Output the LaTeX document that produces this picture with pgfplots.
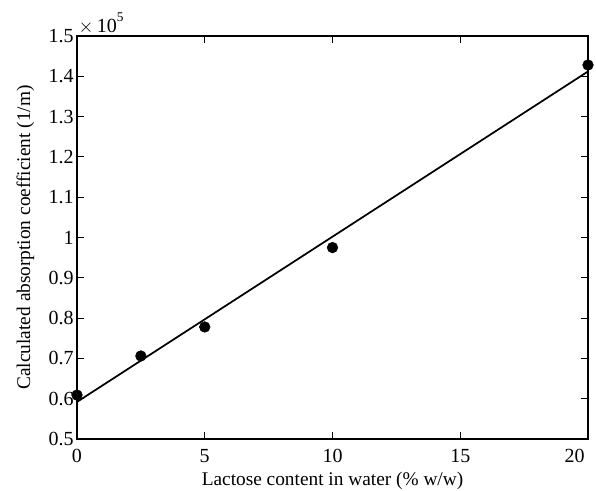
\documentclass[border=0pt]{standalone}
\usepackage{pgfplots}
\pgfplotsset{compat=1.18}
\usepackage{fontspec}
\setmainfont{Liberation Serif}
\begin{document}
\begin{tikzpicture}[x=1pt,y=1pt]
\path[use as bounding box] (-57.75pt,-39pt) rectangle (389.25pt,329.25pt);
\begin{axis}[
  at={(0,0)}, anchor=south west,
  scale only axis,
  width=383.25pt, height=302.25pt,
  xmin=0, xmax=20, ymin=0.5, ymax=1.5,
  xtick={0,5,10,15},
  extra x ticks={20},
  extra x tick style={xticklabel style={anchor=north east, xshift=1pt}},
  ytick={0.5,0.6,0.7,0.8,0.9,1.0,1.1,1.2,1.3,1.4,1.5},
  yticklabel style={/pgf/number format/fixed,/pgf/number format/precision=1, xshift=1pt},
  xticklabel style={yshift=-4pt},
  /pgf/number format/assume math mode=true,
  tick align=inside,
  major tick length=5pt,
  tick style={black, line width=0.6pt},
  axis line style={line width=0.9pt},
  ticklabel style={font=\fontsize{15}{17}\selectfont},
  label style={font=\fontsize{14.5}{17}\selectfont},
  xlabel={Lactose content in water (\% w/w)},
  ylabel={Calculated absorption coefficient (1/m)},
  xlabel style={yshift=0pt},
  ylabel style={yshift=4pt},
  clip=false,
]
\addplot[black, line width=1.3pt] coordinates {(0,0.592) (20,1.412)};
\addplot[only marks, mark=*, mark size=4pt, black] coordinates {
  (0,0.609) (2.5,0.706) (5,0.778) (10,0.975) (20,1.428)};
\node[anchor=south west, inner sep=1pt, font=\fontsize{15}{17}\selectfont] at (rel axis cs:0,1) {$\times$\,10\raisebox{1.2ex}{\fontsize{10}{11}\selectfont 5}};
\end{axis}
\end{tikzpicture}
\end{document}
